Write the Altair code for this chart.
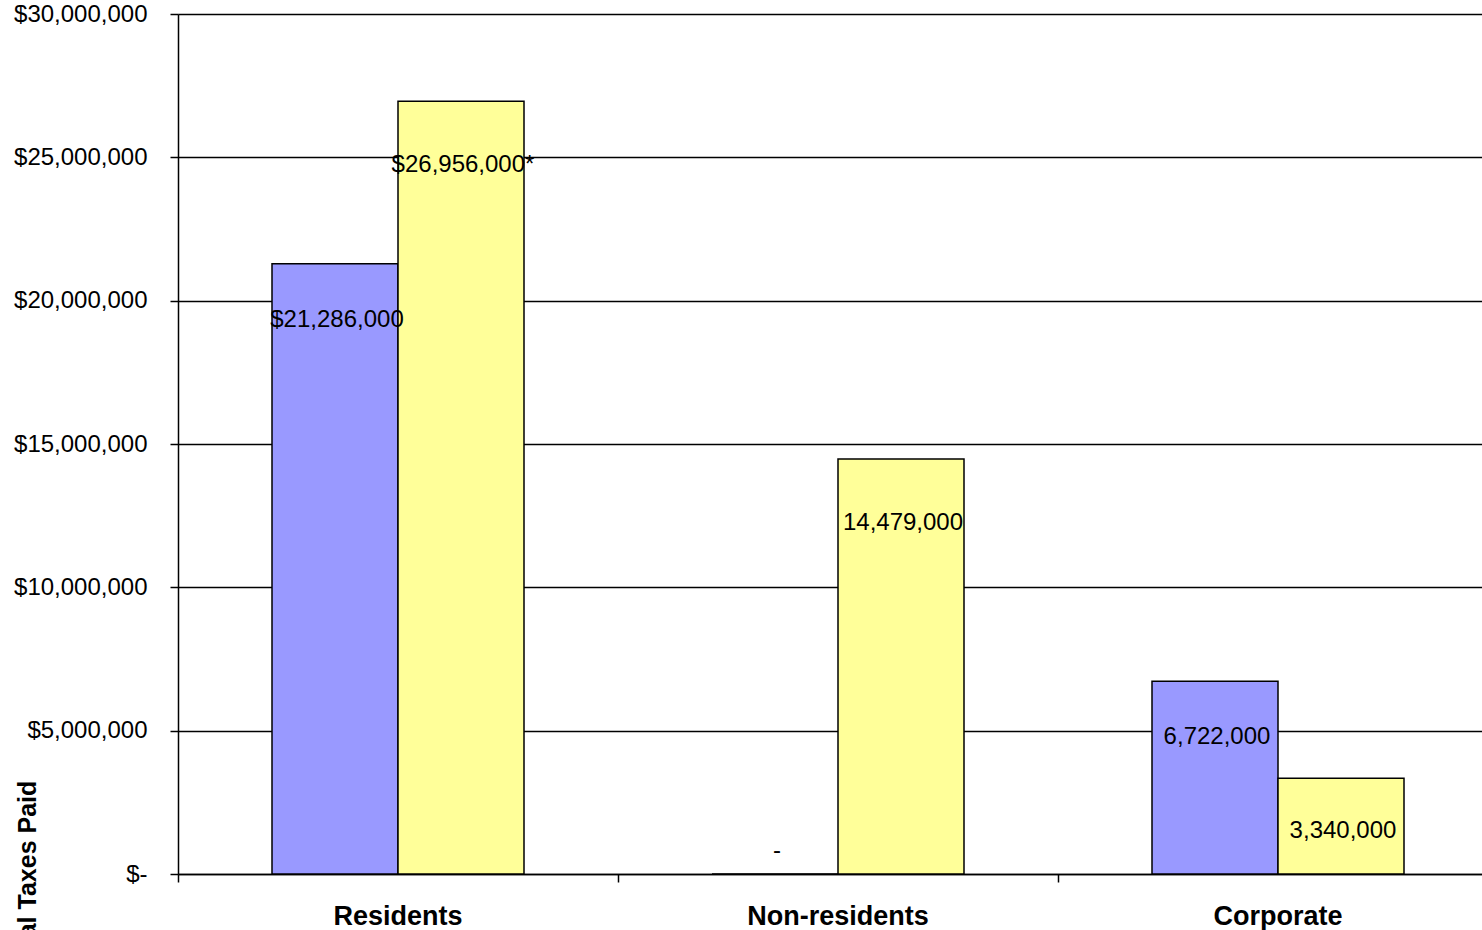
import altair as alt
import pandas as pd

# Tax collected by taxpayer group, two series per group
categories = ["Residents", "Non-residents", "Corporate"]
series_names = ["Series 1", "Series 2"]
series1_values = [21286000, 0, 6722000]
series2_values = [26956000, 14479000, 3340000]
series1_prefix = ["$", "", ""]
series2_prefix = ["$", "", ""]
series1_suffix = ["", "", ""]
series2_suffix = ["*", "", ""]
y_ticks = [0, 5000000, 10000000, 15000000, 20000000, 25000000, 30000000]

BLUE = "#9999FF"
YELLOW = "#FFFF99"
FONT = "Liberation Sans"
Y_MAX = 30000000
PLOT_H = 860


def make_label(value, prefix, suffix):
    if value == 0:
        return "-"
    return f"{prefix}{value:,}{suffix}"


rows = []
for i, cat in enumerate(categories):
    rows.append({"category": cat, "series": series_names[0], "value": series1_values[i],
                 "label": make_label(series1_values[i], series1_prefix[i], series1_suffix[i])})
    rows.append({"category": cat, "series": series_names[1], "value": series2_values[i],
                 "label": make_label(series2_values[i], series2_prefix[i], series2_suffix[i])})
df = pd.DataFrame(rows)

nbsp = "\u00a0"
y_label_expr = (
    "datum.value == 0 ? '$-" + nbsp * 5 + "' : '$' + format(datum.value, ',')"
)

x_enc = alt.X(
    "category:N",
    sort=categories,
    scale=alt.Scale(range=[0, 1320], paddingInner=0, paddingOuter=0),
    axis=alt.Axis(
        title=None,
        bandPosition=0,
        labelAngle=0,
        labelFont=FONT,
        labelFontSize=27,
        labelFontWeight="bold",
        labelColor="black",
        labelPadding=21,
        labelLimit=400,
        tickSize=8,
        tickColor="black",
        tickWidth=1.5,
        domainColor="black",
        domainWidth=1.5,
        grid=False,
    ),
)
xoff_enc = alt.XOffset(
    "series:N",
    sort=series_names,
    scale=alt.Scale(range=[94, 346], paddingInner=0, paddingOuter=0),
)
y_enc = alt.Y(
    "value:Q",
    scale=alt.Scale(domain=[0, Y_MAX], nice=False, zero=True),
    axis=alt.Axis(
        values=y_ticks,
        labelExpr=y_label_expr,
        labelFont=FONT,
        labelFontSize=24,
        labelColor="black",
        labelPadding=23,
        tickSize=8,
        tickColor="black",
        tickWidth=1.5,
        domainColor="black",
        domainWidth=1.5,
        grid=True,
        gridColor="black",
        gridWidth=1.5,
        title="Total Taxes Paid",
        titleFont=FONT,
        titleFontSize=25,
        titleFontWeight="bold",
        titleColor="black",
        titleAngle=-90,
        titleAlign="center",
        titleBaseline="middle",
        titleX=-151,
        titleY=863,
    ),
)

bars = alt.Chart(df).mark_bar(stroke="black", strokeWidth=1.5).encode(
    x=x_enc,
    xOffset=xoff_enc,
    y=y_enc,
    color=alt.Color(
        "series:N",
        sort=series_names,
        scale=alt.Scale(domain=series_names, range=[BLUE, YELLOW]),
        legend=None,
    ),
)

# Labels sit just inside the top of each bar; a zero bar gets its dash above the baseline.
px = f"({Y_MAX}/{PLOT_H})"
label_y_expr = (
    "datum.value == 0 ? 23 * " + px + " : "
    "datum.value - (datum.series == 'Series 1' ? 56 : "
    "min(64, datum.value / " + px + " / 2 + 5)) * " + px
)

labels = alt.Chart(df).transform_calculate(label_y=label_y_expr).mark_text(
    font=FONT, fontSize=24, color="black", baseline="middle", align="center", dx=2
).encode(
    x=alt.X("category:N", sort=categories),
    xOffset=alt.XOffset("series:N", sort=series_names),
    y=alt.Y("label_y:Q"),
    text="label:N",
)

chart = (
    alt.layer(bars, labels)
    .properties(
        width=1304,
        height=PLOT_H,
        autosize=alt.AutoSizeParams(type="none"),
        padding={"left": 178, "top": 14, "right": 0, "bottom": 56},
    )
    .configure_view(strokeWidth=0)
    .configure(background="white")
)

chart.save("out.html", embed_options={"renderer": "svg", "actions": False})
